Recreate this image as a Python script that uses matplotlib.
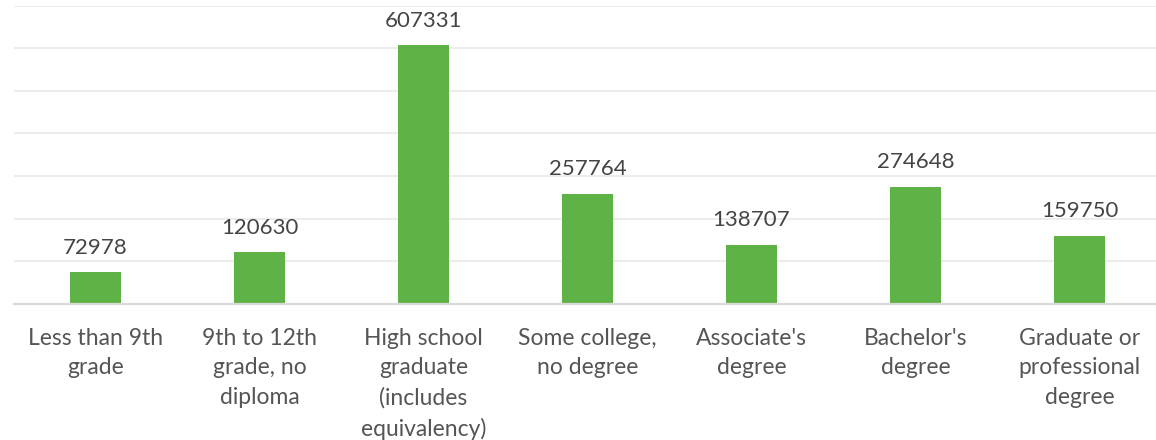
import matplotlib
matplotlib.use("Agg")
import matplotlib.pyplot as plt

categories = ["Less than 9th\ngrade", "9th to 12th\ngrade, no\ndiploma",
              "High school\ngraduate\n(includes\nequivalency)", "Some college,\nno degree",
              "Associate's\ndegree", "Bachelor's\ndegree", "Graduate or\nprofessional\ndegree"]
values = [72978, 120630, 607331, 257764, 138707, 274648, 159750]
yticks = [0, 100000, 200000, 300000, 400000, 500000, 600000, 700000]

plt.rcParams['font.family'] = ['Lato', 'DejaVu Sans']

W, H = 1156, 440
fig = plt.figure(figsize=(W/100, H/100), dpi=100)
left_px, right_px, top_px, bot_px = 13.5, 1161.5, 6, 303.5
ax = fig.add_axes([left_px/W, 1 - bot_px/H, (right_px-left_px)/W, (bot_px-top_px)/H])

x = list(range(len(categories)))
bars = ax.bar(x, values, width=0.31, color="#5fb246", zorder=3)
ax.set_xlim(-0.5, len(categories)-0.5)
ax.set_ylim(0, 700000)
ax.set_yticks(yticks)
ax.yaxis.grid(True, color="#ebebeb", linewidth=1.3, zorder=0)
ax.tick_params(axis='y', left=False, labelleft=False)
ax.tick_params(axis='x', bottom=False, pad=14)
ax.set_xticks(x)
ax.set_xticklabels(categories, fontsize=16.5, color="#555555", linespacing=1.5, va='top')
for s in ['top', 'right', 'left']:
    ax.spines[s].set_visible(False)
ax.spines['bottom'].set_color("#d9d9d9")
ax.spines['bottom'].set_linewidth(1.6)
ax.spines['bottom'].set_zorder(4)
for b, v in zip(bars, values):
    ax.annotate(str(v), (b.get_x()+b.get_width()/2, v), xytext=(0, 10.5),
                textcoords='offset points', ha='center', va='bottom',
                fontsize=16, color="#444444", clip_on=False)
fig.savefig("out.png", dpi=100)
